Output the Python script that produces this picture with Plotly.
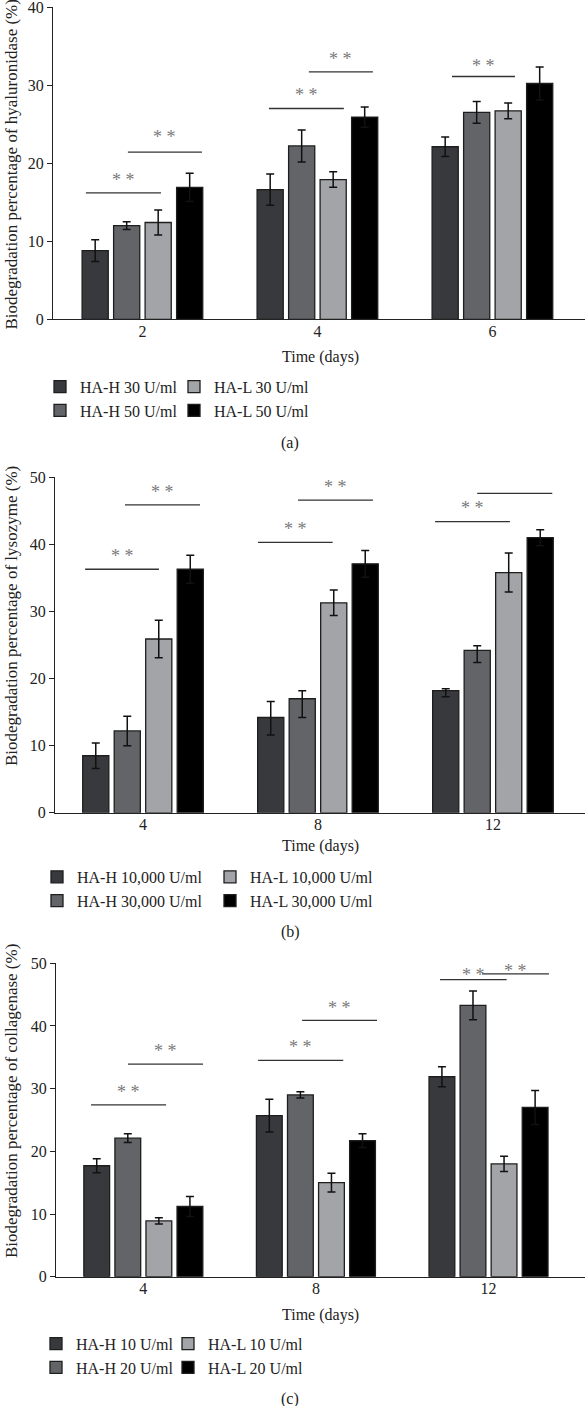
import plotly.graph_objects as go

FONT = "Liberation Serif"
W, H = 585, 1406

# ---------------- Panel (a): hyaluronidase ----------------
a_days = ["2", "4", "6"]
a_names = ["HA-H 30 U/ml", "HA-H 50 U/ml", "HA-L 30 U/ml", "HA-L 50 U/ml"]
a_hh_low = [8.8, 16.6, 22.1]
a_hh_low_err = [1.4, 2.0, 1.25]
a_hh_high = [12.0, 22.2, 26.5]
a_hh_high_err = [0.5, 2.05, 1.4]
a_hl_low = [12.4, 17.9, 26.7]
a_hl_low_err = [1.6, 1.0, 1.0]
a_hl_high = [16.9, 25.9, 30.2]
a_hl_high_err = [1.8, 1.3, 2.1]
# significance brackets: (group, start offset, end offset, line value, star value)
a_brackets = [(0, -0.323, 0.106, 16.2, 18.4), (0, -0.083, 0.340, 21.4, 23.9),
              (1, -0.277, 0.151, 27.0, 29.2), (1, -0.049, 0.317, 31.7, 33.8),
              (2, -0.231, 0.129, 31.1, 32.9)]

# ---------------- Panel (b): lysozyme ----------------
b_days = ["4", "8", "12"]
b_names = ["HA-H 10,000 U/ml", "HA-H 30,000 U/ml", "HA-L 10,000 U/ml", "HA-L 30,000 U/ml"]
b_hh_low = [8.5, 14.2, 18.2]
b_hh_low_err_up = [1.9, 2.4, 0.3]
b_hh_low_err_down = [1.9, 2.6, 0.9]
b_hh_high = [12.2, 17.0, 24.2]
b_hh_high_err_up = [2.2, 1.2, 0.7]
b_hh_high_err_down = [2.2, 2.8, 1.8]
b_hl_low = [25.9, 31.3, 35.8]
b_hl_low_err = [2.8, 1.9, 2.9]
b_hl_high = [36.3, 37.1, 41.0]
b_hl_high_err = [2.1, 2.0, 1.2]
b_brackets = [(0, -0.331, 0.091, 36.3, 38.9), (0, -0.103, 0.326, 45.9, 48.4),
              (1, -0.343, 0.084, 40.3, 42.9), (1, -0.114, 0.314, 46.6, 49.2),
              (2, -0.331, 0.097, 43.4, 46.0), (2, -0.090, 0.339, 47.6, 50.1)]

# ---------------- Panel (c): collagenase ----------------
c_days = ["4", "8", "12"]
c_names = ["HA-H 10 U/ml", "HA-H 20 U/ml", "HA-L 10 U/ml", "HA-L 20 U/ml"]
c_hh_low = [17.7, 25.7, 31.9]
c_hh_low_err = [1.1, 2.6, 1.6]
c_hh_high = [22.1, 29.0, 43.3]
c_hh_high_err = [0.7, 0.5, 2.3]
c_hl_low = [8.9, 15.0, 18.0]
c_hl_low_err = [0.5, 1.5, 1.2]
c_hl_high = [11.2, 21.7, 27.0]
c_hl_high_err = [1.6, 1.1, 2.7]
c_brackets = [(0, -0.303, 0.132, 27.4, 30.1), (0, -0.089, 0.346, 33.9, 36.6),
              (1, -0.335, 0.158, 34.5, 37.3), (1, -0.080, 0.354, 40.9, 43.5),
              (2, -0.281, 0.105, 47.4, 48.8), (2, -0.038, 0.350, 48.3, 49.4)]

FILLS = ["#38393d", "#636468", "#a2a4a7", "#000000"]
EDGE = "#1e1e1e"

# layout geometry (page pixels)
panels = [
    dict(cats=a_days, names=a_names,
         vals=[a_hh_low, a_hh_high, a_hl_low, a_hl_high],
         up=[a_hh_low_err, a_hh_high_err, a_hl_low_err, a_hl_high_err],
         down=[a_hh_low_err, a_hh_high_err, a_hl_low_err, a_hl_high_err],
         br=a_brackets, ytitle="Biodegradation percentage of hyaluronidase (%)",
         ymax=40, axl=53, ytop=7, ybot=319.3, xr=[-0.511, 2.529], ytc=164.5,
         ttl=357, leg=385.7, legx=(40, 174), cap="(a)", capy=443),
    dict(cats=b_days, names=b_names,
         vals=[b_hh_low, b_hh_high, b_hl_low, b_hl_high],
         up=[b_hh_low_err_up, b_hh_high_err_up, b_hl_low_err, b_hl_high_err],
         down=[b_hh_low_err_down, b_hh_high_err_down, b_hl_low_err, b_hl_high_err],
         br=b_brackets, ytitle="Biodegradation percentage of lysozyme (%)",
         ymax=50, axl=55, ytop=477.3, ybot=812.8, xr=[-0.503, 2.526], ytc=616,
         ttl=846, leg=876, legx=(37, 210), cap="(b)", capy=932),
    dict(cats=c_days, names=c_names,
         vals=[c_hh_low, c_hh_high, c_hl_low, c_hl_high],
         up=[c_hh_low_err, c_hh_high_err, c_hl_low_err, c_hl_high_err],
         down=[c_hh_low_err, c_hh_high_err, c_hl_low_err, c_hl_high_err],
         br=c_brackets, ytitle="Biodegradation percentage of collagenase (%)",
         ymax=50, axl=56, ytop=963.3, ybot=1276.7, xr=[-0.506, 2.559], ytc=1101,
         ttl=1315, leg=1342.7, legx=(36, 168), cap="(c)", capy=1399),
]

def px(v):
    return min(max(v / W, 0.0), 1.0)

def py(v):
    return min(max(1 - v / H, 0.0), 1.0)

fig = go.Figure()
layout = dict(width=W, height=H,
              margin=dict(l=0, r=0, t=0, b=0, pad=0, autoexpand=False),
              paper_bgcolor="white", plot_bgcolor="white",
              barmode="group", bargap=0.28, bargroupgap=0.17,
              font=dict(family=FONT, size=16, color="#222"),
              shapes=[], annotations=[])

for i, p in enumerate(panels):
    sfx = "" if i == 0 else str(i + 1)
    xa, ya = "x" + sfx, "y" + sfx
    xs = list(range(len(p["cats"])))
    for k in range(4):
        lg_idx = 2 * i + k // 2 + 1
        lg = "legend" if lg_idx == 1 else "legend%d" % lg_idx
        fig.add_trace(go.Bar(
            x=xs, y=p["vals"][k], name=p["names"][k], xaxis=xa, yaxis=ya,
            legend=lg,
            marker=dict(color=FILLS[k], line=dict(color=EDGE, width=1.3)),
            error_y=dict(type="data", symmetric=False, array=p["up"][k],
                         arrayminus=p["down"][k], color="#111",
                         thickness=1.5, width=4),
        ))
    for c in range(2):
        lg_idx = 2 * i + c + 1
        key = "legend" if lg_idx == 1 else "legend%d" % lg_idx
        layout[key] = dict(x=px(p["legx"][c]), y=py(p["leg"] - 16),
                           xanchor="left", yanchor="top",
                           orientation="v", bgcolor="rgba(0,0,0,0)",
                           font=dict(family=FONT, size=16, color="#222"),
                           tracegroupgap=0)
    layout["xaxis" + sfx] = dict(
        domain=[px(p["axl"]), 1], range=p["xr"], anchor=ya, automargin=False,
        tickvals=xs, ticktext=p["cats"], ticks="", showline=True,
        linecolor="#222", linewidth=1.3, showgrid=False, zeroline=False,
        ticklabelstandoff=-3, ticklabeloverflow="allow",
        tickfont=dict(family=FONT, size=16, color="#222"))
    layout["yaxis" + sfx] = dict(
        domain=[py(p["ybot"]), py(p["ytop"])], range=[0, p["ymax"]],
        anchor=xa, dtick=10, ticks="outside", ticklen=5, tickwidth=1.2,
        tickcolor="#222", showline=True, linecolor="#222", linewidth=1.3,
        showgrid=False, zeroline=False, automargin=False,
        ticklabeloverflow="allow",
        tickfont=dict(family=FONT, size=16, color="#222"))
    for (g, o0, o1, yl, ys) in p["br"]:
        layout["shapes"].append(dict(type="line", xref=xa, yref=ya,
                                     x0=g + o0, x1=g + o1, y0=yl, y1=yl,
                                     line=dict(color="#333", width=1.3)))
        layout["annotations"].append(dict(xref=xa, yref=ya, x=g + (o0 + o1) / 2,
                                          y=ys, text="* *", showarrow=False,
                                          yanchor="middle", yshift=-4,
                                          font=dict(family=FONT, size=18, color="#7a7a7a")))
    layout["annotations"].append(dict(xref="paper", yref="paper", x=px(11), y=py(p["ytc"]),
                                      text=p["ytitle"], textangle=-90, showarrow=False,
                                      xanchor="center", yanchor="middle",
                                      font=dict(family=FONT, size=17, color="#222")))
    layout["annotations"].append(dict(xref="paper", yref="paper", x=px(320), y=py(p["ttl"]),
                                      text="Time (days)", showarrow=False,
                                      xanchor="center", yanchor="middle",
                                      font=dict(family=FONT, size=16, color="#222")))
    layout["annotations"].append(dict(xref="paper", yref="paper", x=px(290), y=py(p["capy"]),
                                      text=p["cap"], showarrow=False,
                                      xanchor="center", yanchor="middle",
                                      font=dict(family=FONT, size=16, color="#222")))

fig.update_layout(**layout)
# remove the browser's default 8px page margin so the figure sits at the page origin
fig.write_html("out.html",
               config={"displayModeBar": False},
               post_script="document.body.style.margin='0px';document.body.style.overflow='hidden';")
